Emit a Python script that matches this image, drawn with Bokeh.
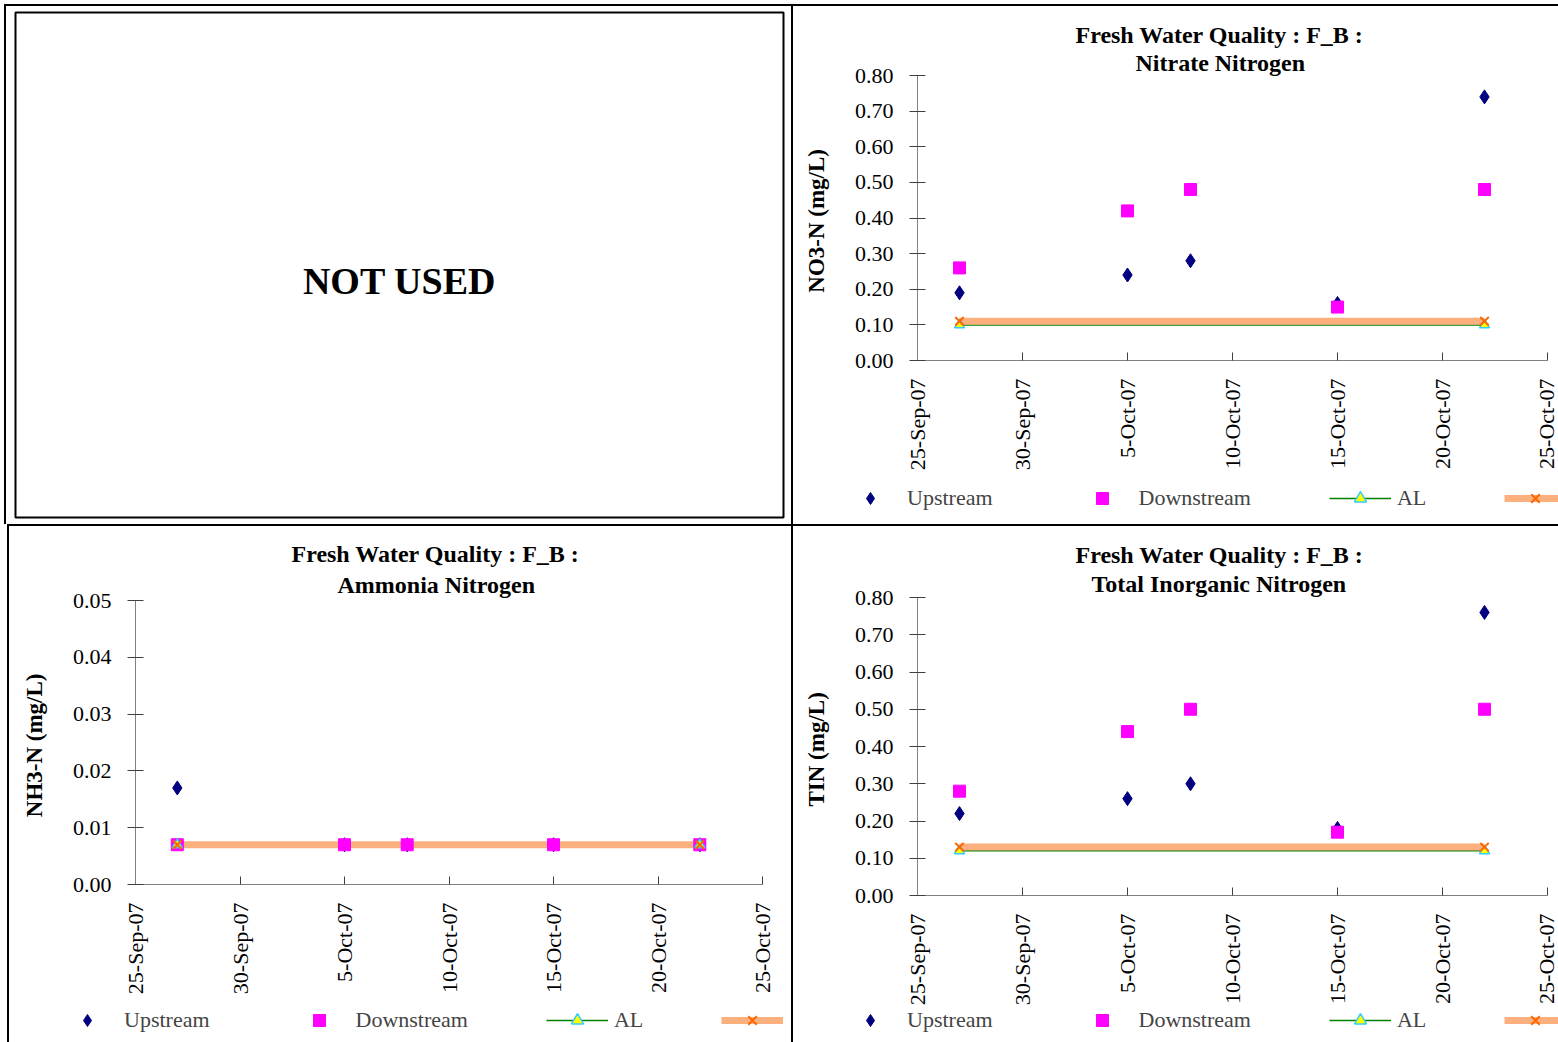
import math
import pandas as pd
from bokeh.plotting import figure
from bokeh.layouts import column, row
from bokeh.models import Legend, LegendItem, FixedTicker, NumeralTickFormatter, Range1d, Title
from bokeh.embed import file_html
from bokeh.resources import INLINE
from bokeh.core.properties import value

# ---------------- data ----------------
start_date = "2007-09-25"
tick_dates = ["2007-09-25", "2007-09-30", "2007-10-05", "2007-10-10",
              "2007-10-15", "2007-10-20", "2007-10-25"]
tick_labels = ["25-Sep-07", "30-Sep-07", "5-Oct-07", "10-Oct-07",
               "15-Oct-07", "20-Oct-07", "25-Oct-07"]
sample_dates = ["2007-09-27", "2007-10-05", "2007-10-08", "2007-10-15", "2007-10-22"]
limit_dates = ["2007-09-27", "2007-10-22"]

series_names = ["Upstream", "Downstream", "AL", " "]

no3_upstream = [0.19, 0.24, 0.28, 0.16, 0.74]
no3_downstream = [0.26, 0.42, 0.48, 0.15, 0.48]
no3_al = [0.10, 0.10]
no3_ll = [0.11, 0.11]

nh3_upstream = [0.017, 0.007, 0.007, 0.007, 0.007]
nh3_downstream = [0.007, 0.007, 0.007, 0.007, 0.007]
nh3_al = [0.007, 0.007]
nh3_ll = [0.007, 0.007]

tin_upstream = [0.22, 0.26, 0.30, 0.18, 0.76]
tin_downstream = [0.28, 0.44, 0.50, 0.17, 0.50]
tin_al = [0.12, 0.12]
tin_ll = [0.13, 0.13]

title_line1 = "Fresh Water Quality : F_B :"
SERIF = "Liberation Serif"
NAN = float("nan")   # legend-only placeholder renderers draw nothing in the strip

# series styles
UP = dict(marker="diamond", fill_color="#000080", line_color="#000080")
DN = dict(marker="square", fill_color="#FF00FF", line_color="#FF00FF")
AL_LINE = dict(line_color="#008000", line_width=1.5)
AL_MARK = dict(marker="triangle", fill_color="#FFFF00", line_color="#33CCFF", line_width=1.5)
LL_LINE = dict(line_color="#FBB07E", line_width=7)
LL_MARK = dict(marker="x", line_color="#FF6600", line_width=2)


def day_offsets(dates):
    t0 = pd.Timestamp(start_date)
    return [(pd.Timestamp(d) - t0).days for d in dates]


def chart(width, height, borders, shadow, y_max, y_ticks, y_label, title2,
          up, down, al, ll, title_offsets, title_standoff):
    p = figure(width=width, height=height, output_backend="svg", toolbar_location=None,
               x_range=Range1d(0, day_offsets([tick_dates[-1]])[0]),
               y_range=Range1d(0, y_max),
               min_border_left=borders[0], min_border_right=borders[1],
               min_border_top=borders[2], min_border_bottom=borders[3])
    p.frame_align = False
    p.grid.visible = False
    p.outline_line_color = None
    p.border_fill_color = None
    p.background_fill_color = "white"
    p.styles = {"box-shadow": shadow}

    xs = day_offsets(sample_dates)
    xl = day_offsets(limit_dates)
    p.line(xl, al, **AL_LINE)
    p.line(xl, ll, **LL_LINE)
    p.scatter(xs, up, size=14, **UP)
    p.scatter(xs, down, size=12, **DN)
    p.scatter(xl, al, size=10, **AL_MARK)
    p.scatter(xl, ll, size=12, **LL_MARK)

    tick_pos = day_offsets(tick_dates)
    xa = p.xaxis[0]
    xa.ticker = FixedTicker(ticks=tick_pos)
    xa.major_label_overrides = {t: l for t, l in zip(tick_pos, tick_labels)}
    xa.major_label_orientation = math.pi / 2
    xa.major_tick_in = 8
    xa.major_tick_out = 0
    xa.minor_tick_line_color = None
    xa.major_label_standoff = 18
    xa.axis_line_color = "#808080"
    xa.major_tick_line_color = "#404040"
    xa.major_label_text_font = SERIF
    xa.major_label_text_font_size = "22px"
    xa.major_label_text_color = "black"

    ya = p.yaxis[0]
    ya.ticker = FixedTicker(ticks=y_ticks)
    ya.formatter = NumeralTickFormatter(format="0.00")
    ya.major_tick_in = 8
    ya.major_tick_out = 8
    ya.minor_tick_line_color = None
    ya.major_label_standoff = 16
    ya.axis_line_color = "#808080"
    ya.major_tick_line_color = "#404040"
    ya.major_label_text_font = SERIF
    ya.major_label_text_font_size = "22px"
    ya.major_label_text_color = "black"
    ya.axis_label = y_label
    ya.axis_label_text_font = SERIF
    ya.axis_label_text_font_style = "bold"
    ya.axis_label_text_font_size = "23px"
    ya.axis_label_text_color = "black"
    ya.axis_label_standoff = 23

    # second title line is closest to the frame, so it is added first
    for t, off, so in [(title2, title_offsets[1], title_standoff), (title_line1, title_offsets[0], 0)]:
        p.add_layout(Title(text=t, align="left", offset=off, standoff=so,
                           text_font=SERIF, text_font_style="bold", text_font_size="24px",
                           text_color="black"), "above")
    return p


def legend_strip(width, height, shadow, loc):
    q = figure(width=width, height=height, output_backend="svg", toolbar_location=None,
               x_range=Range1d(0, 1), y_range=Range1d(0, 1),
               x_axis_location=None, y_axis_location=None, min_border=0)
    q.frame_align = False
    q.grid.visible = False
    q.outline_line_color = None
    q.border_fill_color = None
    q.background_fill_color = None
    q.styles = {"box-shadow": shadow}
    r_up = q.scatter([NAN], [NAN], **UP)
    r_dn = q.scatter([NAN], [NAN], **DN)
    r_all = q.line([NAN], [NAN], **AL_LINE)
    r_alm = q.scatter([NAN], [NAN], **AL_MARK)
    r_lll = q.line([NAN], [NAN], **LL_LINE)
    r_llm = q.scatter([NAN], [NAN], **LL_MARK)
    legend = Legend(items=[LegendItem(label=series_names[0], renderers=[r_up]),
                           LegendItem(label=series_names[1], renderers=[r_dn]),
                           LegendItem(label=series_names[2], renderers=[r_all, r_alm]),
                           LegendItem(label=series_names[3], renderers=[r_lll, r_llm])],
                    location=loc, orientation="horizontal", nrows=1,
                    spacing=78, glyph_width=62, glyph_height=30, label_standoff=6,
                    padding=0, margin=0, border_line_color=None, background_fill_alpha=0,
                    label_text_font=SERIF, label_text_font_size="22px", label_height=24)
    q.add_layout(legend, "center")
    return q


# ---------------- top-left: NOT USED ----------------
p0 = figure(width=791, height=524, output_backend="svg", toolbar_location=None,
            x_range=Range1d(0, 1), y_range=Range1d(0, 1),
            x_axis_location=None, y_axis_location=None,
            min_border_left=15, min_border_right=8, min_border_top=12, min_border_bottom=7)
p0.frame_align = False
p0.grid.visible = False
p0.outline_line_color = "black"
p0.outline_line_width = 2
p0.border_fill_color = None
p0.styles = {"box-shadow": "inset 4px 4px 0 0 #ffffff, inset 6px 6px 0 0 #000000"}
p0.text(x=[0.5], y=[0.469], text=["NOT USED"], text_font=value(SERIF), text_font_style="bold",
        text_font_size="38px", text_align="center", text_baseline="middle", text_color="black")

SH_TR = "inset 0 4px 0 0 #ffffff, inset 2px 6px 0 0 #000000"
SH_R = "inset 2px 0 0 0 #000000"
SH_BL = "inset 7px 0 0 0 #ffffff, inset 9px 2px 0 0 #000000"
SH_L = "inset 7px 0 0 0 #ffffff, inset 9px 0 0 0 #000000"
SH_BR = "inset 2px 2px 0 0 #000000"

p1 = chart(767, 482, (126, 11, 75, 122), SH_TR,
           0.8, [0.0, 0.1, 0.2, 0.3, 0.4, 0.5, 0.6, 0.7, 0.8],
           "NO3-N  (mg/L)", "Nitrate Nitrogen",
           no3_upstream, no3_downstream, no3_al, no3_ll,
           (158, 218), 0)
l1 = legend_strip(767, 42, SH_R, (48, 11))

p2 = chart(791, 476, (135, 29, 76, 116), SH_BL,
           0.05, [0.0, 0.01, 0.02, 0.03, 0.04, 0.05],
           "NH3-N  (mg/L)", "Ammonia Nitrogen",
           nh3_upstream, nh3_downstream, nh3_al, nh3_ll,
           (156, 202), 6)
l2 = legend_strip(791, 42, SH_L, (56, 7))

p3 = chart(767, 484, (126, 11, 73, 110), SH_BR,
           0.8, [0.0, 0.1, 0.2, 0.3, 0.4, 0.5, 0.6, 0.7, 0.8],
           "TIN  (mg/L)", "Total Inorganic Nitrogen",
           tin_upstream, tin_downstream, tin_al, tin_ll,
           (158, 174), 2)
l3 = legend_strip(767, 34, SH_R, (48, 7))

layout = column(row(p0, column(p1, l1, spacing=0), spacing=0),
                row(column(p2, l2, spacing=0), column(p3, l3, spacing=0), spacing=0),
                spacing=0)
open("out.html", "w").write(file_html(layout, INLINE))
